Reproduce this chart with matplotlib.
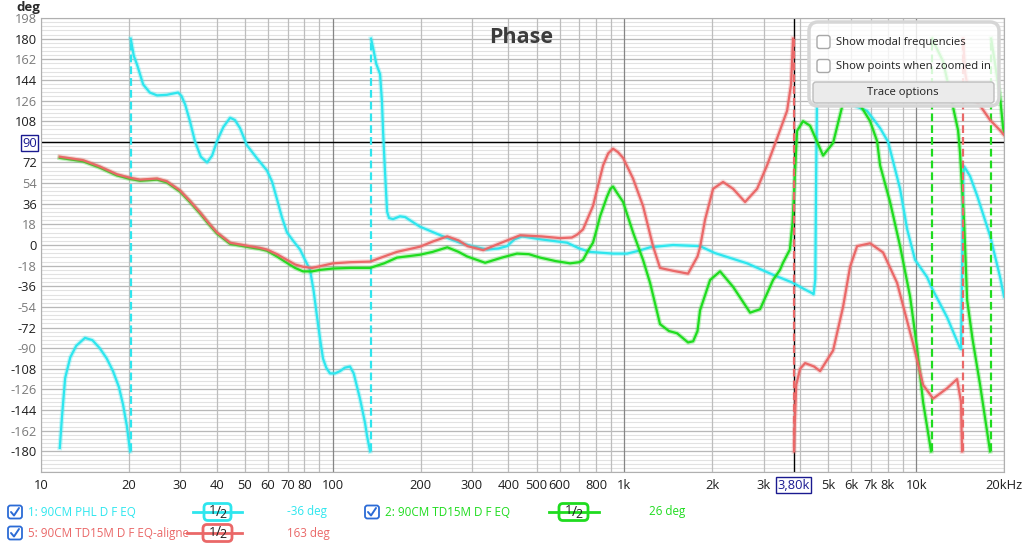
import numpy as np
import matplotlib
matplotlib.use("Agg")
import matplotlib.pyplot as plt
from matplotlib import patheffects as pe
from matplotlib.patches import FancyBboxPatch

plt.rcParams['font.family'] = ['Open Sans', 'DejaVu Sans']

# ---- data (Hz, deg) ----
# 1: 90CM PHL D F EQ
f_phl = [11.6, 11.8, 12.1, 12.6, 13.2, 14.15, 15.0, 15.9, 16.8, 17.65, 18.5, 19.1, 19.7, 20.2,
         20.3, 20.8, 21.3, 22.4, 23.6, 25.0, 27.0, 29.5, 30.3, 31.2, 32.4, 33.7, 35.3, 37.1, 38.6,
         40.1, 42.2, 44.5, 46.2, 48.1, 50.8, 55.0, 59.5, 62.0, 64.4, 67.0, 69.7, 73.0, 77.3, 80.0,
         83.6, 86.0, 88.4, 90.5, 92.6, 95.0, 97.9, 101.8, 106, 110, 114.6, 118, 124, 129, 131, 134.3,
         135.3, 138, 141, 145.3, 147.5, 148.8, 151, 153.6, 156, 161, 170, 177, 199, 239, 273, 300,
         338, 370, 396, 420, 446, 514, 636, 700, 762, 914, 1021, 1120, 1224, 1468, 1816, 2041, 2633,
         3232, 3784, 4100, 4397, 4450, 4510, 4540, 4570, 4700, 5000, 5400, 5796, 6788, 7521, 8010,
         8807, 9307, 9913, 10900, 11340, 12760, 14140, 14250, 14500, 14600, 15300, 16180, 17920,
         19390, 20000]
p_phl = [-177, -150, -116, -98, -88, -81, -83, -90, -99, -110, -124, -139, -158, -180,
         180, 165, 158, 140, 133, 130.5, 131, 133, 130, 122.5, 108, 90.5, 77, 72, 78,
         90.5, 103, 111, 109, 102, 87, 75.6, 65, 55, 40, 24, 11, 4, -4, -12,
         -21.6, -40, -63, -82, -99, -107, -112, -112, -110, -107, -106, -112, -134, -155, -166, -180,
         180, 170, 158, 149, 125, 99, 65, 29, 23.5, 22.6, 25, 24.4, 16, 7.5, 2, -1,
         -4, -3, -1, 5, 7.5, 5, 2, -3, -6, -7.5, -7.5, -5, -2, 0, -1, -7, -16,
         -26, -33, -38, -42, -43, -30, 60, 125, 133, 136, 130, 124, 117, 102, 90,
         49, 14, -13, -28, -38, -63, -90, -91, 60, 68.5, 60, 43, 8,
         -28, -45]

# 2: 90CM TD15M D F EQ
f_td = [11.6, 13.93, 15.9, 18.2, 20.2, 21.85, 25.0, 27.0, 29.96, 32.4, 35.1, 37.5, 40.1, 44.5,
        50.8, 56.3, 59.5, 64.4, 69.7, 74.3, 79.1, 84.9, 90.5, 100.2, 115, 134.3, 150, 166, 199,
        220, 247, 270, 289, 333, 380, 428, 470, 514, 580, 651, 700, 721, 750, 780, 800, 825, 871,
        895, 914, 940, 989, 1070, 1158, 1224, 1324, 1420, 1515, 1652, 1720, 1780, 1816, 1966, 2127,
        2357, 2696, 2917, 3232, 3415, 3494, 3690, 3770, 3844, 3906, 4094, 4328, 4796, 5190, 5615,
        5935, 6273, 6577, 6950, 7345, 7521, 8137, 8807, 9531, 10072, 10560, 11250,
        11340, 12370, 13280, 13920, 14140, 14370, 14600, 14780, 14950, 15600, 16560, 17920,
        18070, 18640, 19390, 19860, 20000]
p_td = [76, 73, 67.5, 60.7, 57.6, 56, 57, 54.6, 46.6, 37.5, 27.5, 18.5, 10, 1,
        -1.6, -3.5, -5, -10, -15.6, -20, -23, -23, -21.7, -20.5, -20, -20, -16, -11, -8.5,
        -6, -2, -6, -10, -15.5, -11, -7.5, -8, -11, -14, -16, -15, -13, -5, 2, 12, 25, 42,
        49, 51, 46, 37.6, 11, -13, -33, -69, -75, -77, -85, -84, -75, -57, -30.5, -23,
        -36.5, -59, -56, -30.5, -21.6, -15.6, -4, 20, 64, 99.5, 108, 104, 78, 89, 124,
        129, 126, 118, 108, 90.6, 69.5, 37.5, -1, -45, -90, -137, -180,
        180, 160, 124, 100, 80, 49, 20, -15, -48, -82, -122, -180,
        180, 158, 129, 102, 98]

# 5: 90CM TD15M D F EQ-aligne
f_al = [11.6, 13.93, 15.9, 18.2, 20.2, 21.85, 25.0, 27.0, 29.96, 32.4, 35.1, 37.5, 40.1, 44.5,
        50.8, 56.3, 59.5, 64.4, 69.7, 74.3, 79.1, 84.9, 90.5, 100.2, 115, 134.3, 150, 166, 199,
        220, 247, 270, 290, 328, 370, 439, 520, 602, 660, 688, 721, 780, 845, 880, 914, 950, 989,
        1070, 1158, 1253, 1324, 1468, 1652, 1780, 1816, 1889, 2013, 2178, 2357, 2591, 2849, 3082,
        3335, 3609, 3725, 3784,
        3814, 3830, 3880, 4000, 4161, 4466, 4684, 5190, 5615, 5935, 6273, 6950, 7700, 8600, 9759,
        10560, 11430, 12760, 13810, 14250, 14300, 14370,
        14480, 14720, 15140, 15310, 16560, 17920, 19390, 20000]
p_al = [77, 74, 68.5, 61.7, 58.6, 57, 58, 55.6, 47.6, 38.5, 28.5, 19.5, 11, 2,
        -0.6, -2.5, -4, -8, -13, -17, -19, -20, -18.5, -16, -15, -14.5, -10, -6, -1.5,
        3, 7.5, 4, -1, -4.5, 1, 8.5, 7.5, 6, 6.5, 9, 13.6, 34, 69.5, 80, 84, 81, 76,
        58, 34, -1, -20, -22.5, -25, -10, -2, 22, 49, 55, 49, 37.5, 49, 69.5,
        93, 117, 140, 180,
        -180, -160, -122, -108, -103, -106, -110, -92, -54, -19, -1, 1.5, -6.5, -33, -86,
        -122, -134, -125, -117, -137, -160, -180,
        180, 150, 133, 129, 121.6, 109, 100, 96]

cursor_f = 3800
cursor_deg = 90

c_phl = '#2ee6ee'
c_td = '#1fdc1f'
c_al = '#ea6868'

W, H = 1024, 544
fig = plt.figure(figsize=(W / 100, H / 100), dpi=100)
L, R, T, B = 41, 1004, 18, 472
ax = fig.add_axes([L / W, 1 - B / H, (R - L) / W, (B - T) / H])
ax.set_xscale('log')
ax.set_xlim(10, 20000)
ax.set_ylim(-198, 198)

# grid
for v in np.arange(-198, 198.1, 3.6):
    ax.axhline(v, color='#e2e2e2', lw=0.8, zorder=0)
for v in np.arange(-198, 199, 18):
    ax.axhline(v, color='#b8b8b8', lw=0.9, zorder=0)
for dec in [10, 100, 1000, 10000]:
    for m in range(1, 10):
        fv = dec * m
        if fv > 20000:
            break
        col = '#858585' if m == 1 and dec > 10 else '#bdbdbd'
        ax.axvline(fv, color=col, lw=0.9, zorder=0)
ax.axvline(20000, color='#bdbdbd', lw=0.9, zorder=0)

for s in ax.spines.values():
    s.set_color('#b0b0b0')

# cursor lines
ax.axvline(cursor_f, color='black', lw=1.0, zorder=1)
ax.axhline(cursor_deg, color='black', lw=1.0, zorder=1)


def draw_trace(f, p, color):
    f = np.asarray(f, float)
    p = np.asarray(p, float)
    jumps = np.where(np.abs(np.diff(p)) > 270)[0]
    starts = np.r_[0, jumps + 1]
    ends = np.r_[jumps + 1, len(f)]
    glow = [pe.Stroke(linewidth=3.4, foreground=color, alpha=0.28), pe.Normal()]
    for s, e in zip(starts, ends):
        ax.plot(f[s:e], p[s:e], color=color, lw=1.6, zorder=3,
                solid_joinstyle='round', path_effects=glow)
    for j in jumps:
        ax.plot([f[j + 1], f[j + 1]], [p[j], p[j + 1]], color=color, lw=1.6,
                ls=(0, (3.5, 1.8)), zorder=3)


draw_trace(f_phl, p_phl, c_phl)
draw_trace(f_td, p_td, c_td)
draw_trace(f_al, p_al, c_al)

# ticks
yt = np.arange(-180, 199, 18)
ax.set_yticks(yt)
ax.set_yticklabels([str(v) for v in yt])
for v, lab in zip(yt, ax.get_yticklabels()):
    lab.set_fontsize(9.3)
    if v == cursor_deg:
        lab.set_color('#1a1a90')
        lab.set_bbox(dict(boxstyle='square,pad=0.12', fc='white', ec='#1a1a90', lw=1.0))
    elif v % 36 == 0:
        lab.set_color('#1e1e1e')
    else:
        lab.set_color('#7a7a7a')

xt = [10, 20, 30, 40, 50, 60, 70, 80, 100, 200, 300, 400, 500, 600, 800,
      1000, 2000, 3000, cursor_f, 5000, 6000, 7000, 8000, 10000, 20000]
xl = ['10', '20', '30', '40', '50', '60', '70', '80', '100', '200', '300', '400', '500',
      '600', '800', '1k', '2k', '3k', '3,80k', '5k', '6k', '7k', '8k', '10k', '20kHz']
ax.set_xticks(xt)
ax.set_xticklabels(xl)
ax.xaxis.set_minor_locator(plt.NullLocator())
for v, lab in zip(xt, ax.get_xticklabels()):
    lab.set_fontsize(9.3)
    lab.set_color('#1e1e1e')
    if v == cursor_f:
        lab.set_color('#1a1a90')
        lab.set_bbox(dict(boxstyle='square,pad=0.12', fc='white', ec='#1a1a90', lw=1.0))
ax.tick_params(length=0, pad=5)
ax.tick_params(axis='y', pad=3)

# overlay in pixel coords
ov = fig.add_axes([0, 0, 1, 1], zorder=5)
ov.set_xlim(0, W)
ov.set_ylim(H, 0)
ov.axis('off')
ov.patch.set_alpha(0)

ov.text(28, 8, 'deg', fontsize=9.5, fontweight='bold', color='#2a2a2a', ha='center', va='center')
ov.text(521, 35, 'Phase', fontsize=15.5, fontweight='bold', color='#3c3c3c', ha='center',
        va='center_baseline')

# options panel
ov.add_patch(FancyBboxPatch((809, 22), 190, 84, boxstyle='round,pad=0,rounding_size=9',
                            fc=(1, 1, 1, 0.82), ec='#d6d6d6', lw=2.5))
for cy, txt in [(42, 'Show modal frequencies'), (66, 'Show points when zoomed in')]:
    ov.add_patch(FancyBboxPatch((817, cy - 6.5), 13, 13, boxstyle='round,pad=0,rounding_size=2.5',
                                fc='white', ec='#a8a8a8', lw=1.0))
    ov.text(836, cy, txt, fontsize=8.1, color='#202020', va='center', ha='left')
ov.add_patch(FancyBboxPatch((813, 82), 181, 21, boxstyle='round,pad=0,rounding_size=3',
                            fc='#ebebeb', ec='#bdbdbd', lw=1.0))
ov.text(903, 92.5, 'Trace options', fontsize=8.1, color='#202020', va='center', ha='center')

# legend
legend_rows = [
    (512, 8, '1: 90CM PHL D F EQ', c_phl, 193, 242, 204, 231, 287, '-36 deg'),
    (512, 365, '2: 90CM TD15M D F EQ', c_td, 549, 599, 559, 588, 649, '26 deg'),
    (533, 8, '5: 90CM TD15M D F EQ-aligne', c_al, 187, 242, 203, 232, 287, '163 deg'),
]
for cy, cbx, name, col, l0, l1, b0, b1, vx, val in legend_rows:
    ov.add_patch(FancyBboxPatch((cbx, cy - 6.5), 14, 13, boxstyle='round,pad=0,rounding_size=2.5',
                                fc='white', ec='#2b6bd6', lw=1.3))
    ov.plot([cbx + 3, cbx + 6, cbx + 11], [cy, cy + 3.5, cy - 4], color='#2b6bd6', lw=1.4,
            solid_capstyle='round', solid_joinstyle='round')
    ov.text(cbx + 20, cy, name, fontsize=8.4, color=col, va='center', ha='left')
    ov.plot([l0, l1], [cy, cy], color=col, lw=2.0)
    ov.add_patch(FancyBboxPatch((b0, cy - 8.5), b1 - b0, 17, boxstyle='round,pad=0,rounding_size=4',
                                fc='white', ec=col, lw=2.0))
    cx = (b0 + b1) / 2
    ov.text(cx - 4.5, cy - 1, '1', fontsize=9.5, color='#202020', va='center', ha='center')
    ov.text(cx + 0.5, cy, '/', fontsize=10, color='#202020', va='center', ha='center')
    ov.text(cx + 5.5, cy + 2, '2', fontsize=8.8, color='#202020', va='center', ha='center')
    ov.text(vx, cy, val, fontsize=8.4, color=col, va='center', ha='left')

fig.savefig('out.png', dpi=100)
